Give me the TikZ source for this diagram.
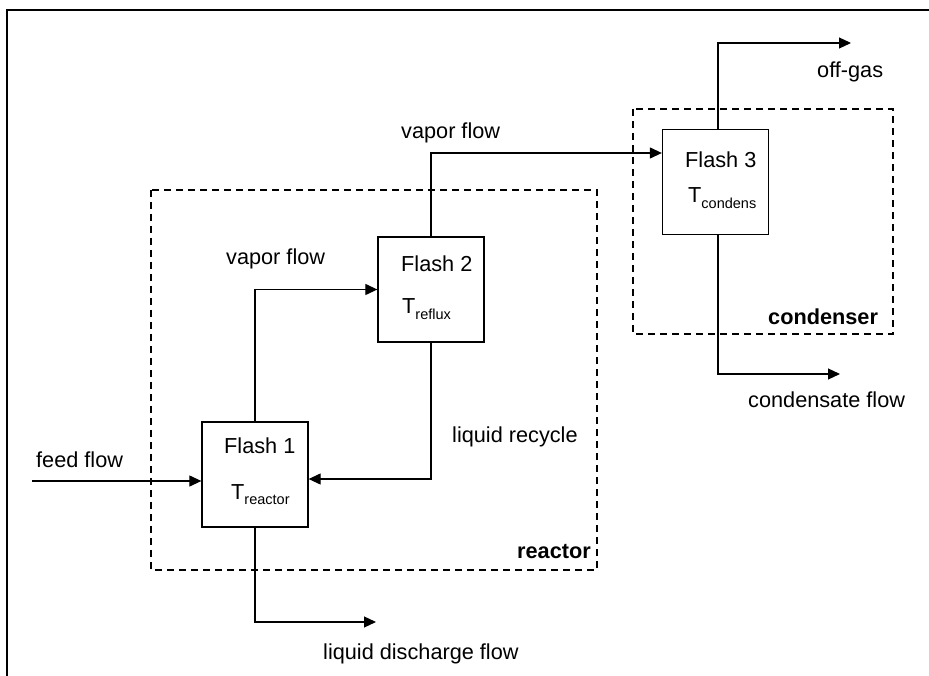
\documentclass[tikz,border=0pt]{standalone}
\usepackage{fontspec}
\setmainfont{Liberation Sans}
\usetikzlibrary{arrows.meta}

\newcommand{\subT}[1]{T\raisebox{-5.5pt}{\fontsize{14.5}{16}\selectfont #1}}

\begin{document}
\begin{tikzpicture}[x=1pt,y=-1pt,
  every node/.style={font=\fontsize{21.7}{26}\selectfont},
  flashbox/.style={draw, line width=1.3pt, minimum width=106pt, minimum height=105pt, inner sep=0pt},
  txt/.style={anchor=base west, inner sep=0pt},
  flow/.style={line width=1.2pt, -{Triangle[length=12pt,width=11pt]}},
  zone/.style={line width=1.6pt, dash pattern=on 7pt off 5pt},
  frame/.style={line width=1.5pt}]
\useasboundingbox (0,0) rectangle (929,676);

% outer frame (top and left edges)
\draw[frame] (929,10) -- (7,10) -- (7,676);

% dashed unit boundaries
\draw[zone] (151,190) rectangle (597,570);
\draw[zone] (633,109) rectangle (893,334);
\node[txt, font=\fontsize{21.7}{26}\selectfont\bfseries] at (517,558) {reactor};
\node[txt, font=\fontsize{21.7}{26}\selectfont\bfseries] at (768,324) {condenser};

% flash units
\node[flashbox] (f1) at (255,474.5) {};
\node[flashbox] (f2) at (431,289.5) {};
\node[flashbox] (f3) at (715.5,182) {};

\node[txt] (f1name) at (224,453) {Flash 1};
\node[txt] (f1temp) at (231,499) {\subT{reactor}};
\node[txt] (f2name) at (401,272) {Flash 2};
\node[txt] (f2temp) at (402,314) {\subT{reflux}};
\node[txt] (f3name) at (685,168) {Flash 3};
\node[txt] (f3temp) at (688,203) {\subT{condens}};

% free ends of the streams
\coordinate (feedin) at (32,481);
\coordinate (offgas) at (851,43);
\coordinate (condout) at (840,374);
\coordinate (dischout) at (376,622);

% streams
\draw[flow] (feedin) -- ([yshift=-6.5pt]f1.west);
\draw[flow] (f1.north) |- (f2.west);
\draw[flow] (f2.south) |- ([yshift=-4.5pt]f1.east);
\draw[flow] (f2.north) |- ([yshift=29pt]f3.west);
\draw[flow] ([xshift=2.5pt]f3.north) |- (offgas);
\draw[flow] ([xshift=2.5pt]f3.south) |- (condout);
\draw[flow] (f1.south) |- (dischout);

% stream labels
\node[txt] (lfeed) at (36,467) {feed flow};
\node[txt] (lvap1) at (226,265) {vapor flow};
\node[txt] (lvap2) at (401,139) {vapor flow};
\node[txt] (lrec) at (452,442) {liquid recycle};
\node[txt] (loff) at (817,78) {off-gas};
\node[txt] (lcond) at (748,407) {condensate flow};
\node[txt] (ldis) at (323,659) {liquid discharge flow};
\end{tikzpicture}
\end{document}
